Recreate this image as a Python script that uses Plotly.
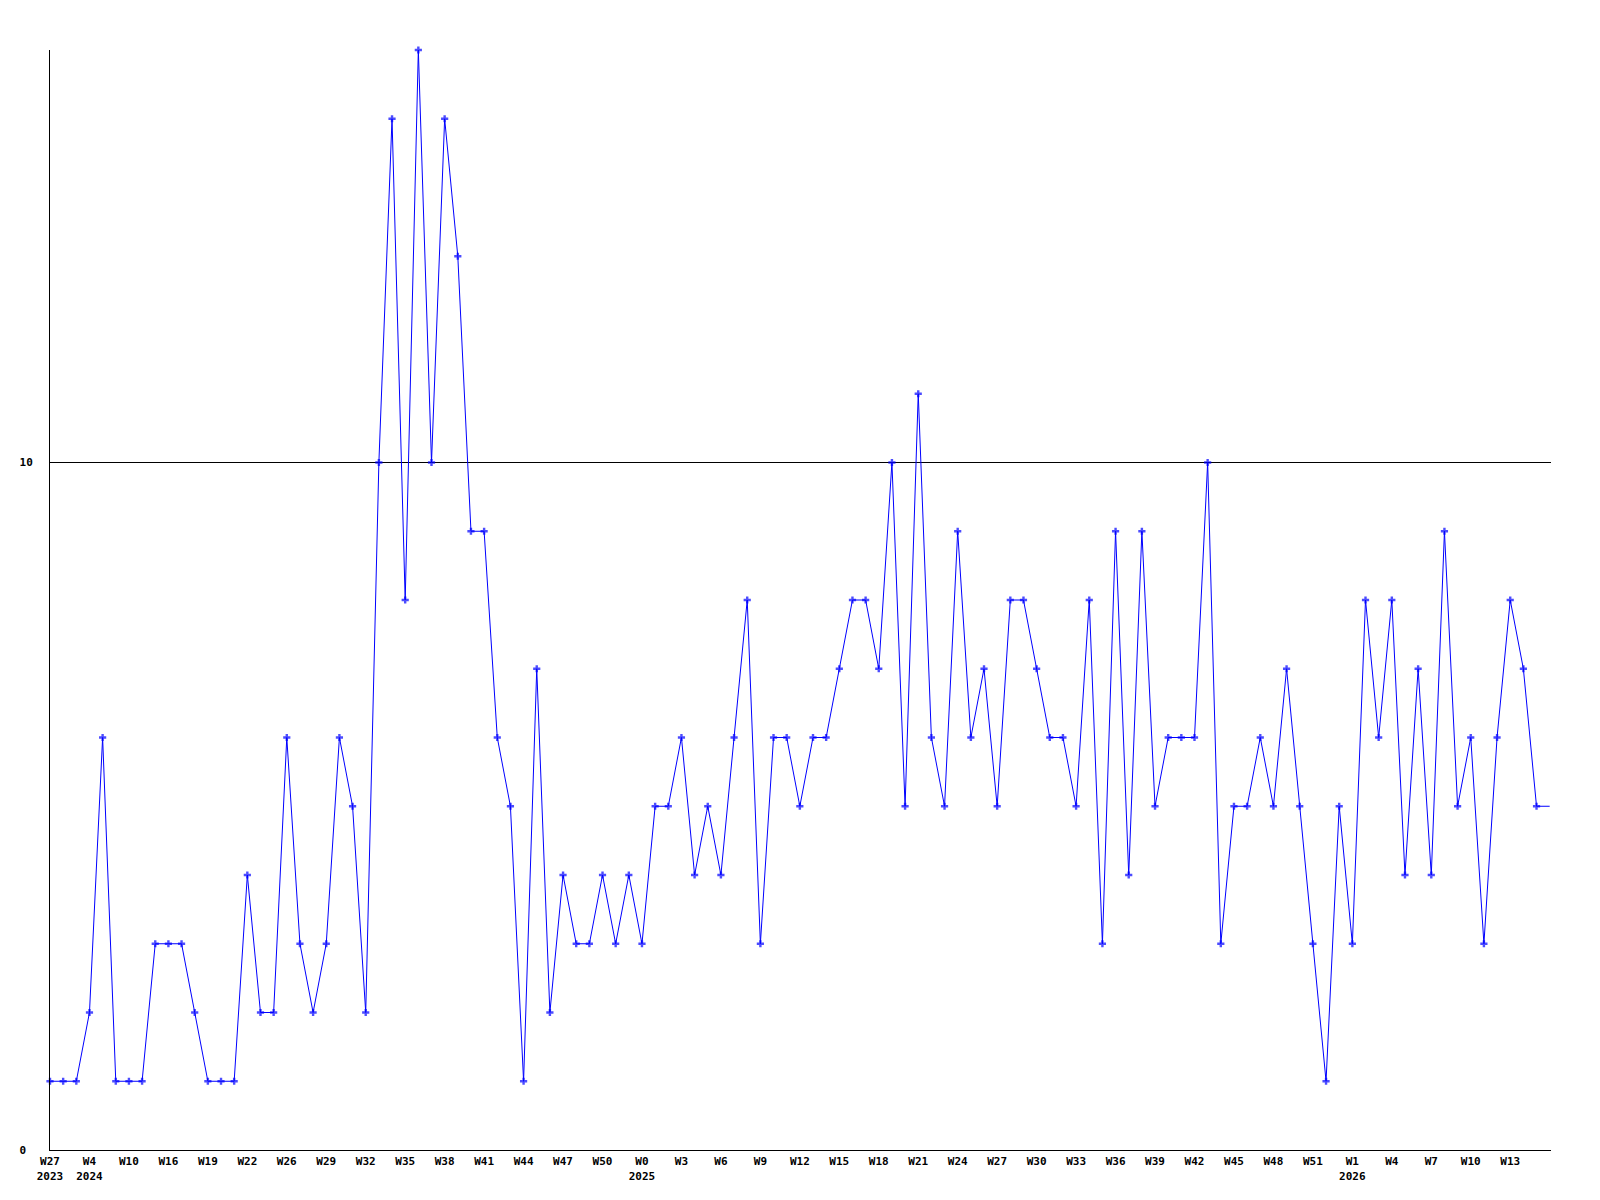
import plotly.graph_objects as go

# values per week (last entry is the value carried to the right edge)
values = [1, 1, 1, 2, 6, 1, 1, 1, 3, 3,
          3, 2, 1, 1, 1, 4, 2, 2, 6, 3,
          2, 3, 6, 5, 2, 10, 15, 8, 16, 10,
          15, 13, 9, 9, 6, 5, 1, 7, 2, 4,
          3, 3, 4, 3, 4, 3, 5, 5, 6, 4,
          5, 4, 6, 8, 3, 6, 6, 5, 6, 6,
          7, 8, 8, 7, 10, 5, 11, 6, 5, 9,
          6, 7, 5, 8, 8, 7, 6, 6, 5, 8,
          3, 9, 4, 9, 5, 6, 6, 6, 10, 3,
          5, 5, 6, 5, 7, 5, 3, 1, 5, 3,
          8, 6, 8, 4, 7, 4, 9, 5, 6, 3,
          6, 8, 7, 5, 5]

# week labels shown on every third point
week_labels = ["W27", "W4", "W10", "W16", "W19", "W22", "W26", "W29", "W32", "W35",
               "W38", "W41", "W44", "W47", "W50", "W0", "W3", "W6", "W9", "W12",
               "W15", "W18", "W21", "W24", "W27", "W30", "W33", "W36", "W39", "W42",
               "W45", "W48", "W51", "W1", "W4", "W7", "W10", "W13"]
year_labels = {"W27#0": "2023", "W4#1": "2024", "W0#15": "2025", "W1#33": "2026"}

y_ticks = [0, 10]
y_ticktext = ["0\u00a0", "10"]

LABEL_STEP = 3

x = list(range(len(values)))
tickvals = [i * LABEL_STEP for i in range(len(week_labels))]
ticktext = []
for i, w in enumerate(week_labels):
    yr = year_labels.get(f"{w}#{i}")
    ticktext.append(f"{w}<br>{yr}" if yr else f"{w}<br> ")

marker_sizes = [6] * (len(values) - 1) + [0]

font = dict(family="DejaVu Sans Mono", size=11, color="black", weight="bold")

fig = go.Figure()
fig.add_trace(go.Scatter(
    x=x, y=values, mode="lines+markers",
    line=dict(color="#0000ff", width=1),
    marker=dict(symbol="cross", size=marker_sizes, color="#0000ff",
                line=dict(width=0)),
    cliponaxis=False,
    showlegend=False, hoverinfo="x+y",
))

fig.update_layout(
    width=1584, height=1184,
    margin=dict(l=42, r=41, t=42, b=42),
    paper_bgcolor="white", plot_bgcolor="white",
    font=font,
    xaxis=dict(
        range=[0, 114.1], tickvals=tickvals, ticktext=ticktext,
        showgrid=False, zeroline=False, showline=True, linecolor="black",
        linewidth=1, ticks="", tickfont=font, ticklabelstandoff=1,
        automargin=False,
    ),
    yaxis=dict(
        range=[0, 16], tickvals=y_ticks, ticktext=y_ticktext,
        showgrid=True, gridcolor="black", gridwidth=1, zeroline=False,
        showline=True, linecolor="black", linewidth=1, ticks="",
        tickfont=font, ticklabelstandoff=14, automargin=False,
    ),
)

fig.write_html("out.html")
